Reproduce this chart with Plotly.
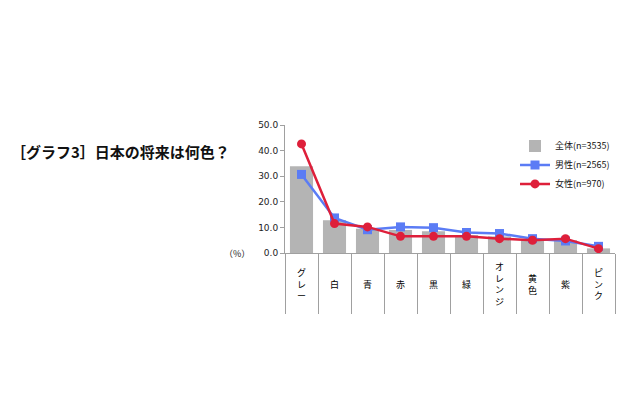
import plotly.graph_objs as go

# カテゴリ（縦書きラベル用に1文字ずつ改行）
categories = ["グレー", "白", "青", "赤", "黒", "緑", "オレンジ", "黄色", "紫", "ピンク"]
total = [33.9, 12.8, 9.5, 9.0, 8.5, 7.0, 6.5, 5.0, 5.0, 1.8]     # 全体(n=3535)
male = [30.7, 13.7, 9.1, 10.2, 9.9, 8.0, 7.6, 5.6, 4.7, 2.6]     # 男性(n=2565)
female = [42.6, 11.5, 10.2, 6.5, 6.5, 6.5, 5.6, 5.0, 5.6, 1.7]   # 女性(n=970)
y_ticks = [0, 10, 20, 30, 40, 50]

font_jp = "Noto Sans CJK JP"
gray = "#b4b4b4"
blue = "#5b7cf5"
red = "#de1f3a"

fig = go.Figure()

fig.add_trace(go.Bar(
    x=categories,
    y=total,
    name="全体(n=3535)",
    marker=dict(color=gray, line=dict(width=0)),
    width=0.7,
))

fig.add_trace(go.Scatter(
    x=categories,
    y=male,
    name="男性(n=2565)",
    mode="lines+markers",
    line=dict(color=blue, width=2.5),
    marker=dict(symbol="square", size=9, color=blue),
))

fig.add_trace(go.Scatter(
    x=categories,
    y=female,
    name="女性(n=970)",
    mode="lines+markers",
    line=dict(color=red, width=2.5),
    marker=dict(symbol="circle", size=9, color=red),
))

# 縦書きのカテゴリラベル
for c in categories:
    fig.add_annotation(
        x=c, y=-0.245, xref="x", yref="paper",
        text="<br>".join(list(c)),
        showarrow=False, yanchor="middle", xanchor="center",
        font=dict(family=font_jp, size=9, color="#000000"),
    )

fig.add_annotation(
    x=-0.145, y=0, xref="paper", yref="paper",
    text="（%）", showarrow=False, xanchor="center", yanchor="middle",
    font=dict(family=font_jp, size=9, color="#222222"),
)

fig.add_annotation(
    x=-0.835, y=0.79, xref="paper", yref="paper",
    text="<b>［グラフ3］日本の将来は何色？</b>",
    showarrow=False, xanchor="left", yanchor="middle",
    font=dict(family=font_jp, size=15, color="#111111"),
)

# ページ余白(8px)の分だけ小さく
fig.update_layout(
    width=632,
    height=410,
    margin=dict(l=277, r=25, t=117, b=165),
    paper_bgcolor="white",
    plot_bgcolor="white",
    font=dict(family=font_jp, size=9, color="#222222"),
    showlegend=True,
    legend=dict(
        x=0.697, y=0.95, xanchor="left", yanchor="top",
        font=dict(family=font_jp, size=9, color="#111111"),
        bgcolor="rgba(0,0,0,0)",
        tracegroupgap=0,
        itemwidth=30,
    ),
    bargap=0.3,
)

fig.update_xaxes(
    type="category",
    range=[-0.5, 9.5],
    showticklabels=False,
    ticks="outside",
    tickson="boundaries",
    ticklen=60,
    tickcolor="#a0a0a0",
    tickwidth=1,
    showline=True,
    linecolor="#a0a0a0",
    linewidth=1,
    showgrid=False,
    zeroline=False,
)

fig.update_yaxes(
    range=[0, 50],
    tickvals=y_ticks,
    tickformat=".1f",
    ticks="outside",
    ticklen=4,
    tickcolor="#a0a0a0",
    showline=True,
    linecolor="#a0a0a0",
    linewidth=1,
    showgrid=False,
    zeroline=False,
    tickfont=dict(family="DejaVu Sans", size=9, color="#222222"),
)

fig.write_html("out.html")
